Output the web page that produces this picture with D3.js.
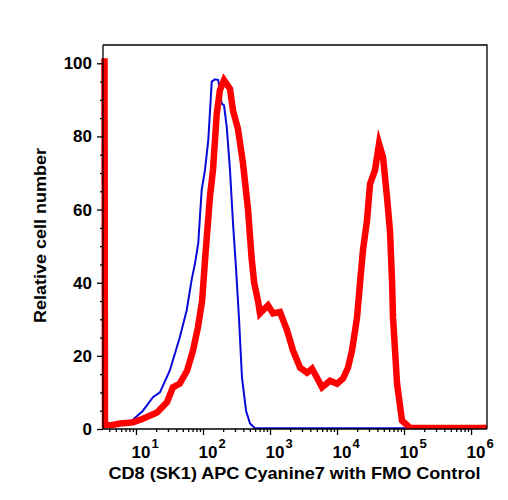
<!DOCTYPE html>
<html>
<head>
<meta charset="utf-8">
<script src="https://cdn.jsdelivr.net/npm/d3@7"></script>
<style>
  body { margin: 0; background: #fff; }
  svg { display: block; font-family: "Liberation Sans", Arial, Helvetica, sans-serif; font-weight: bold; }
</style>
</head>
<body>
<div id="chart"></div>
<script>
'use strict';

// sample (red) histogram: intensity vs relative cell number
var redIntensity = [3.39, 3.45, 4.1, 5.8, 9.0, 12.7, 20.6, 29, 35.6, 45, 58, 71, 84, 97, 107, 127, 141, 160, 179, 206,
    253, 281, 333, 395, 470, 530, 580, 662, 709, 842, 934, 1109, 1410, 1795, 2205, 2805, 3565, 4235, 5025, 5970,
    7870, 10000, 12300, 14600, 16750, 19900, 22000, 24400, 28000, 31100, 36900, 42400, 48600, 55700, 61800,
    66200, 68500, 78700, 93300, 123000, 1730000];
var redCount = [101.4, 1, 1, 1.5, 1.8, 2.8, 4.5, 7.3, 11.4, 12.4, 16, 21.5, 27.8, 35, 46, 63.5, 70.8, 86, 92.7, 95.4,
    93, 87, 82, 72.7, 60, 47, 40, 35, 31.6, 33, 33.8, 31.6, 32, 27, 21.5, 16.8, 15.4, 16.5, 14, 11.4,
    13.2, 12.4, 13.8, 16.8, 21.5, 30.5, 39.8, 48.9, 57, 67, 70.8, 78, 74.3, 63.4, 54,
    40.6, 30.5, 12.4, 2.3, 0.3, 0.3];

// FMO control (blue)
var blueIntensity = [3.39, 5, 9, 12.7, 17.9, 22.8, 32, 45, 57, 68, 76, 85, 90, 95.6, 107, 120, 135, 151, 169,
    190, 206, 226, 253, 281, 311, 345, 382, 439, 503, 597, 1730000];
var blueCount = [0.5, 1, 2.5, 5, 8.7, 10, 16, 25, 32.4, 41, 45.3, 50.8, 58, 65.3, 70.8, 79, 95, 95.6, 95.4,
    89, 88.5, 82.6, 70.8, 56, 44, 30, 14, 5, 1.5, 0.2, 0.2];

var xMajor = [1, 2, 3, 4, 5, 6];           // exponents of 10
var yMajor = [0, 20, 40, 60, 80, 100];
var yMinor = [5, 10, 15, 25, 30, 35, 45, 50, 55, 65, 70, 75, 85, 90, 95];

var W = 508, H = 500;
var pL = 103, pR = 487, pT = 45, pB = 429;

var svg = d3.select('#chart').append('svg')
    .attr('width', W)
    .attr('height', H);

var x = d3.scaleLog().domain([3.22, 1.73e6]).range([pL, pR]);
var y = d3.scaleLinear().domain([0, 105]).range([pB, pT]);

// minor x ticks: 2..9 in each decade, inside the domain
var xMinor = [];
for (var e = 0; e <= 6; e++) {
    for (var m = 2; m <= 9; m++) {
        var v = m * Math.pow(10, e);
        if (v >= x.domain()[0] && v <= x.domain()[1]) xMinor.push(v);
    }
}

svg.append('defs').append('clipPath')
    .attr('id', 'plotclip')
    .append('rect')
    .attr('x', 95).attr('y', pT - 5)
    .attr('width', pR - 95).attr('height', pB - pT + 5);

var line = d3.line()
    .x(function (d) { return x(d[0]); })
    .y(function (d) { return y(d[1]); });

var plot = svg.append('g').attr('clip-path', 'url(#plotclip)');

plot.append('path')
    .datum(d3.zip(blueIntensity, blueCount))
    .attr('d', line)
    .attr('fill', 'none')
    .attr('stroke', '#0a0ad8')
    .attr('stroke-width', 2);

plot.append('path')
    .datum(d3.zip(redIntensity, redCount))
    .attr('d', line)
    .attr('fill', 'none')
    .attr('stroke', '#ff0000')
    .attr('stroke-width', 6.5)
    .attr('stroke-linejoin', 'miter')
    .attr('stroke-miterlimit', 10);

// frame (top and right)
svg.append('path')
    .attr('d', 'M' + pL + ',' + pT + 'H' + pR + 'V' + pB)
    .attr('fill', 'none')
    .attr('stroke', '#000')
    .attr('stroke-width', 1.3);

// x axis
var xAxisG = svg.append('g').attr('transform', 'translate(0,' + pB + ')');
xAxisG.append('g')
    .call(d3.axisBottom(x).tickValues(xMinor).tickSize(3).tickFormat(''))
    .call(function (g) { g.select('.domain').remove(); });
xAxisG.append('g')
    .call(d3.axisBottom(x).tickValues(xMajor.map(function (p) { return Math.pow(10, p); })).tickSize(6).tickFormat(''))
    .call(function (g) { g.select('.domain').remove(); });
xAxisG.selectAll('line').attr('stroke', '#000').attr('stroke-width', 1.3);
xAxisG.append('line')
    .attr('x1', pL).attr('x2', pR)
    .attr('stroke', '#000').attr('stroke-width', 1.3);

var xLab = svg.append('g').selectAll('text')
    .data(xMajor)
    .join('text')
    .attr('x', function (p) { return x(Math.pow(10, p)) - 4.5; })
    .attr('y', 457.5)
    .attr('font-size', 17)
    .attr('fill', '#000');
xLab.append('tspan').text('10');
xLab.append('tspan')
    .attr('font-size', 13)
    .attr('dy', -9.5)
    .attr('dx', 1)
    .text(function (p) { return p; });

// y axis
var yAxisG = svg.append('g').attr('transform', 'translate(' + pL + ',0)');
yAxisG.append('g')
    .call(d3.axisLeft(y).tickValues(yMinor).tickSize(3).tickFormat(''))
    .call(function (g) { g.select('.domain').remove(); });
yAxisG.append('g')
    .call(d3.axisLeft(y).tickValues(yMajor).tickSize(6).tickFormat(''))
    .call(function (g) { g.select('.domain').remove(); });
yAxisG.selectAll('line').attr('stroke', '#000').attr('stroke-width', 1.3);
yAxisG.append('line')
    .attr('y1', pT).attr('y2', pB)
    .attr('stroke', '#000').attr('stroke-width', 1.3);

svg.append('g').selectAll('text')
    .data(yMajor)
    .join('text')
    .attr('x', 92)
    .attr('y', function (d) { return y(d) + 6; })
    .attr('text-anchor', 'end')
    .attr('font-size', 17)
    .attr('fill', '#000')
    .text(function (d) { return d; });

// axis titles
svg.append('text')
    .attr('x', 294.5)
    .attr('y', 478.5)
    .attr('text-anchor', 'middle')
    .attr('font-size', 17)
    .attr('textLength', 372)
    .attr('lengthAdjust', 'spacingAndGlyphs')
    .attr('fill', '#000')
    .text('CD8 (SK1) APC Cyanine7 with FMO Control');

svg.append('text')
    .attr('transform', 'translate(45.5,235.5) rotate(-90)')
    .attr('text-anchor', 'middle')
    .attr('font-size', 17)
    .attr('textLength', 175)
    .attr('lengthAdjust', 'spacingAndGlyphs')
    .attr('fill', '#000')
    .text('Relative cell number');
</script>
</body>
</html>
